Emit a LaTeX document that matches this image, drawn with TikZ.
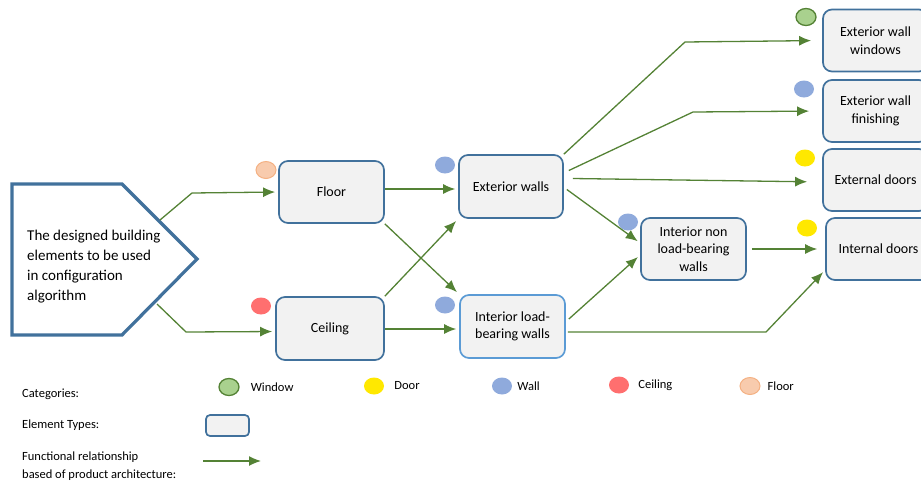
\documentclass[tikz,border=0pt]{standalone}
\usepackage{fontspec}
\setmainfont{Carlito}
\usetikzlibrary{positioning}
\usetikzlibrary{shapes.geometric}
\usetikzlibrary{arrows.meta}

\definecolor{boxblue}{HTML}{41719C}
\definecolor{lightblue}{HTML}{5B9BD5}
\definecolor{boxgrey}{HTML}{F2F2F2}
\definecolor{arrgreen}{HTML}{548235}
\definecolor{winfill}{HTML}{A9D18E}
\definecolor{doorfill}{HTML}{FFE800}
\definecolor{wallfill}{HTML}{8FAADC}
\definecolor{ceilfill}{HTML}{FF6F6F}
\definecolor{floorfill}{HTML}{F8CBAD}
\definecolor{floorborder}{HTML}{F4B183}

\begin{document}
\begin{tikzpicture}[x=1pt,y=-1pt,
        element/.style={rectangle,rounded corners=9pt,draw=boxblue,line width=1.7pt,fill=boxgrey,minimum width=105pt,minimum height=62pt,align=center,font=\fontsize{14}{17.5}\selectfont},
        category/.style={ellipse,minimum width=20pt,minimum height=17pt,inner sep=0pt},
        legend/.style={inner sep=0pt,align=left,font=\fontsize{12.5}{18}\selectfont},
        arr/.style={line width=1.3pt,draw=arrgreen,-{Latex[length=12pt,width=10pt]},shorten >=3pt}
        ]
        \useasboundingbox (0,0) rectangle (921,480);
        % source block
        \draw[line width=3.2pt,draw=boxblue,fill=white] (12,184) -- (122,184) -- (197,259) -- (122,335) -- (12,335) -- cycle;
        \node (src) [anchor=west,inner sep=0pt,align=left,font=\fontsize{15}{20}\selectfont] at (27,267)
            {The designed building\\elements to be used\\in configuration\\algorithm};
        \coordinate (srcup) at (160,220);
        \coordinate (srcdown) at (157,304);
        % element types
        \node (floor) [element] at (331.5,192) {Floor};
        \node (ceil) [element,minimum width=108pt,minimum height=63pt] at (330,328.5) {Ceiling};
        \node (extw) [element,minimum width=104pt,minimum height=63pt] at (511,186.5) {Exterior walls};
        \node (intlb) [element,draw=lightblue,minimum height=63pt] at (512.5,326.5) {Interior load-\\bearing walls};
        \node (intnlb) [element] at (693.5,249) {Interior non\\load-bearing\\walls};
        \node (win) [element] at (875.5,40.5) {Exterior wall\\windows};
        \node (fin) [element] at (875.5,111) {Exterior wall\\finishing};
        \node (extd) [element] at (875.5,180) {External doors};
        \node (intd) [element] at (878.5,249) {Internal doors};
        % categories
        \node (cfloor) [category,fill=floorfill,draw=floorborder,line width=1pt] at (266,170) {};
        \node (cceil) [category,fill=ceilfill] at (261,306) {};
        \node (cextw) [category,fill=wallfill] at (445,165) {};
        \node (cintlb) [category,fill=wallfill] at (445,305) {};
        \node (cintnlb) [category,fill=wallfill] at (628,222) {};
        \node (cwin) [category,fill=winfill,draw=arrgreen,line width=1.3pt] at (806,17) {};
        \node (cfin) [category,fill=wallfill] at (804,89) {};
        \node (cextd) [category,fill=doorfill] at (805,158) {};
        \node (cintd) [category,fill=doorfill] at (807,228) {};
        % relationships
        \draw[arr] (srcup) -- (192,193) -- (floor.west);
        \draw[arr] (srcdown) -- (186,332) -- ([yshift=-3pt]ceil.west);
        \draw[arr] ([yshift=3pt]floor.east) -- ([yshift=-2.5pt]extw.west);
        \draw[arr] (floor.south east) -- (intlb.north west);
        \draw[arr] (ceil.north east) -- (extw.south west);
        \draw[arr] ([yshift=-0.5pt]ceil.east) -- ([yshift=-2.5pt]intlb.west);
        \draw[arr,shorten >=11pt] (extw.north east) -- (685,42) -- (win.west);
        \draw[arr,shorten >=13pt] ([xshift=5pt,yshift=16pt]extw.east) -- (693,112) -- (fin.west);
        \draw[arr,shorten >=15pt] ([xshift=9pt,yshift=8pt]extw.east) -- ([yshift=-2pt]extd.west);
        \draw[arr] ([xshift=3pt,yshift=-3pt]extw.east) -- ([yshift=6pt]intnlb.west);
        \draw[arr] ([xshift=3pt,yshift=7.5pt]intlb.east) -- ([yshift=-6pt]intnlb.west);
        \draw[arr] ([xshift=2pt,yshift=-5.5pt]intlb.east) -- (766,332) -- ([yshift=-21pt]intd.west);
        \draw[arr,shorten <=5pt,shorten >=8pt] (intnlb.east) -- (intd.west);
        % legend
        \node (lcat) [legend,anchor=west] at (22,394) {Categories:};
        \node (ltype) [legend,anchor=west] at (22,425) {Element Types:};
        \node (lrel) [legend,anchor=west] at (22,466) {Functional relationship\\based of product architecture:};
        \node (kwin) [category,fill=winfill,draw=arrgreen,line width=1.3pt] at (229,387) {};
        \node (lwin) [legend,right=11pt of kwin] {Window};
        \node (kdoor) [category,fill=doorfill] at (374,386) {};
        \node (ldoor) [legend,right=10pt of kdoor] {Door};
        \node (kwall) [category,fill=wallfill] at (502,386) {};
        \node (lwall) [legend,right=5pt of kwall] {Wall};
        \node (kceil) [category,fill=ceilfill] at (619,385) {};
        \node (lceil) [legend,right=9pt of kceil] {Ceiling};
        \node (kfloor) [category,fill=floorfill,draw=floorborder,line width=1pt] at (750,386) {};
        \node (lfloor) [legend,right=7pt of kfloor] {Floor};
        \node (ktype) [element,minimum width=43pt,minimum height=21pt,rounded corners=4pt] at (227.5,425.5) {};
        \coordinate (krelA) at (203,461);
        \coordinate (krelB) at (261,461);
        \draw[arr,shorten >=0pt] (krelA) -- (krelB);
    \end{tikzpicture}
\end{document}
